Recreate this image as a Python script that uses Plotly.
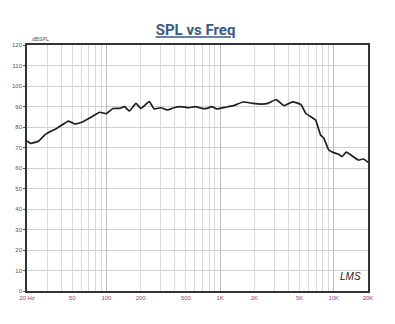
import plotly.graph_objects as go

freq_hz = [20, 21.6, 25.4, 29, 36.7, 46.4, 53, 60.5, 71.6, 87.5, 99.8, 114, 130.6, 144, 159, 182, 201,
           238, 263, 301, 343, 393, 448, 530, 605, 692, 766, 845, 935, 1104, 1306, 1595, 1948, 2302,
           2630, 3105, 3666, 4347, 5130, 5666, 6477, 6920, 7653, 8170, 9040, 9980, 11040, 11800,
           12880, 14430, 16490, 18200, 20000]
spl_db = [73.2, 72.0, 73.2, 76.4, 79.4, 82.9, 81.5, 82.3, 84.5, 87.2, 86.5, 89.0, 89.1, 89.9, 87.8, 91.5,
          89.1, 92.4, 88.8, 89.4, 88.3, 89.4, 89.9, 89.4, 89.9, 89.1, 89.1, 89.9, 88.8, 89.6, 90.4,
          92.2, 91.5, 91.2, 91.5, 93.4, 90.4, 92.3, 91.0, 86.7, 84.5, 83.4, 76.1, 74.5, 68.8, 67.5,
          66.7, 65.5, 67.7, 66.0, 63.9, 64.4, 62.8]

x_tick_vals = [20, 50, 100, 200, 500, 1000, 2000, 5000, 10000, 20000]
x_tick_text = ["20 Hz", "50", "100", "200", "500", "1K", "2K", "5K", "10K", "20K"]
y_tick_vals = list(range(0, 121, 10))

minor_vals = [m * d for d in (10, 100, 1000, 10000) for m in range(1, 10) if 20 <= m * d <= 20000]
decade_vals = [100, 1000, 10000]

fig = go.Figure()
fig.add_trace(go.Scatter(x=freq_hz, y=spl_db, mode="lines",
                         line=dict(color="#1e1e1e", width=1.7, shape="spline", smoothing=0.4),
                         showlegend=False, hoverinfo="skip"))
# invisible trace for decade grid overlay axis
fig.add_trace(go.Scatter(x=[20, 20000], y=[0, 0], xaxis="x2", mode="markers",
                         marker=dict(opacity=0), showlegend=False, hoverinfo="skip"))

fig.update_layout(
    width=395, height=324,
    margin=dict(l=23, r=27, t=45, b=33),
    paper_bgcolor="white", plot_bgcolor="white",
    font=dict(family="Liberation Sans", size=6, color="#444444"),
    title=dict(text="<b><u>SPL vs Freq</u></b>", x=0.495, xanchor="center",
               y=1 - 30 / 324, yanchor="middle", yref="container",
               font=dict(family="Roboto", size=15, color="#3b5b85")),
    xaxis=dict(type="log", range=[1.30103, 4.30103], tickvals=x_tick_vals, ticktext=x_tick_text,
               showgrid=True, gridcolor="#d9d9d9", gridwidth=1,
               minor=dict(tickvals=minor_vals, showgrid=True, gridcolor="#d9d9d9", gridwidth=1),
               showline=True, linecolor="#333333", linewidth=1.5, mirror=True,
               ticks="", tickfont=dict(size=6, color="#9b4466"), zeroline=False),
    xaxis2=dict(type="log", range=[1.30103, 4.30103], overlaying="x", tickvals=decade_vals,
                showticklabels=False, showgrid=True, gridcolor="#bcbcbc", gridwidth=1,
                showline=False, ticks="", zeroline=False),
    yaxis=dict(range=[0, 120], tickvals=y_tick_vals, showgrid=True, gridcolor="#d0d0d0",
               showline=True, linecolor="#333333", linewidth=1.5, mirror=True,
               ticks="outside", ticklen=2, tickcolor="#555555",
               tickfont=dict(size=6, color="#555555"), zeroline=False),
    annotations=[
        dict(text="dBSPL", x=0.01, y=1.0, xref="paper", yref="paper", xanchor="left",
             yanchor="bottom", showarrow=False, font=dict(size=5.5, color="#555555"), yshift=1),
        dict(text="<i>LMS</i>", x=0.985, y=0.03, xref="paper", yref="paper", xanchor="right",
             yanchor="bottom", showarrow=False,
             font=dict(family="Liberation Sans", size=10, color="#222222")),
    ],
)

fig.write_html("out.html")
